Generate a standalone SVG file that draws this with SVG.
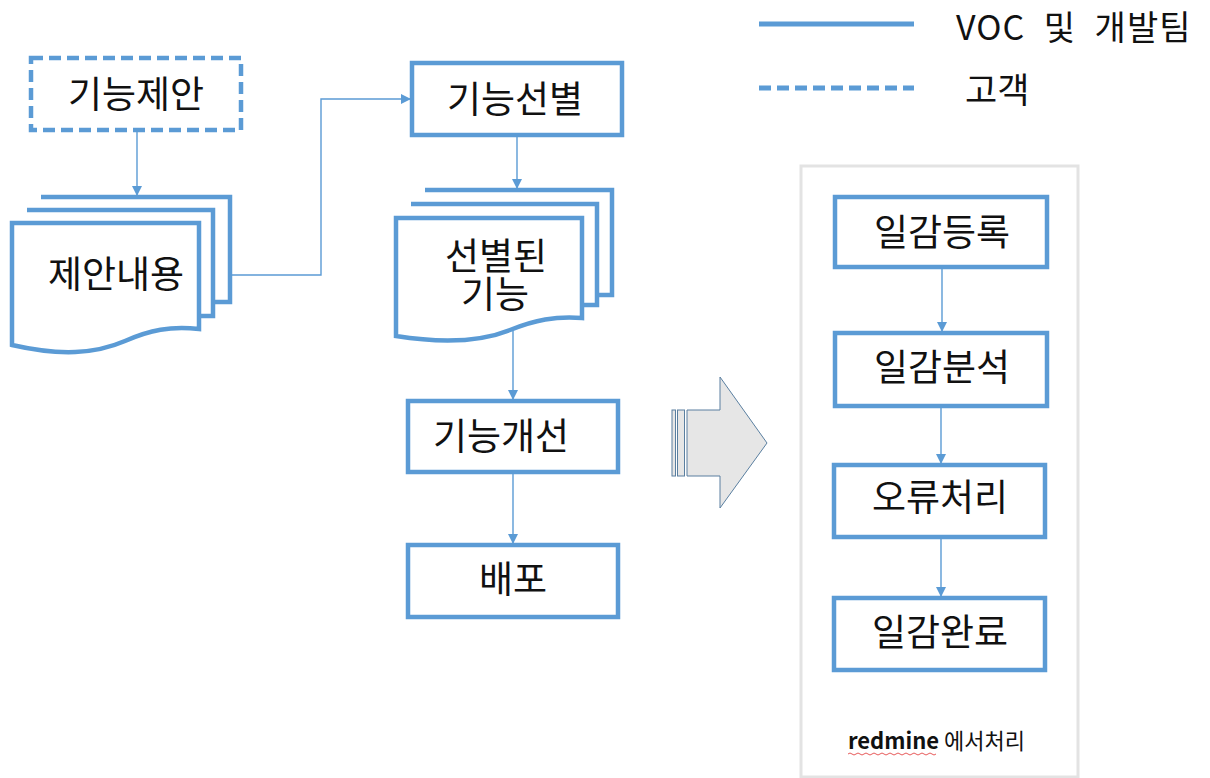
<svg xmlns="http://www.w3.org/2000/svg" width="1210" height="778" viewBox="0 0 1210 778">
<defs>
<style>
.box{fill:#fff;stroke:#5b9bd5;stroke-width:4.5}
.dash{fill:#fff;stroke:#5b9bd5;stroke-width:4.5;stroke-dasharray:12 6}
.doc{fill:#fff;stroke:#5b9bd5;stroke-width:4.5;stroke-linejoin:miter}
.t{font-family:"Noto Sans CJK KR","Noto Sans",sans-serif;font-size:37px;fill:#111;text-anchor:middle}
.conn{fill:none;stroke:#5b9bd5;stroke-width:1.4}
</style>
<marker id="ah" viewBox="0 0 10 10" refX="9" refY="5" markerWidth="10" markerHeight="10" markerUnits="userSpaceOnUse" orient="auto">
<path d="M0,0 L10,5 L0,10 z" fill="#5b9bd5"/>
</marker>
</defs>
<rect width="1210" height="778" fill="#fff"/>

<g id="legend">
<line x1="759" y1="24" x2="914" y2="24" stroke="#5b9bd5" stroke-width="5"/>
<line x1="759" y1="88" x2="914" y2="88" stroke="#5b9bd5" stroke-width="5" stroke-dasharray="12 6"/>
<text x="956" y="40" class="t" style="text-anchor:start;font-size:34px;letter-spacing:1px;word-spacing:10px">VOC 및 개발팀</text>
<text x="965" y="103" class="t" style="text-anchor:start;font-size:35px">고객</text>
</g>

<g id="container">
<rect x="801" y="166" width="277" height="611" fill="#fff" stroke="#e3e3e3" stroke-width="3"/>
<text x="848" y="749" font-family="'Noto Sans CJK KR','Liberation Sans',sans-serif" font-size="22" fill="#111"><tspan font-weight="bold">redmine</tspan> 에서처리</text>
<path d="M848,754 q2,-2 4,0 t4,0 t4,0 t4,0 t4,0 t4,0 t4,0 t4,0 t4,0 t4,0 t4,0 t4,0 t4,0 t4,0 t4,0 t4,0 t4,0 t4,0 t4,0 t4,0 t4,0 t4,0" fill="none" stroke="#e03030" stroke-width="0.8"/>
</g>

<g id="n-proposal">
<rect x="31" y="58" width="210" height="72" class="dash"/>
<text x="136" y="108" class="t">기능제안</text>
</g>

<g id="n-proposal-docs">
<path d="M41,197 H230 V302 H213" class="doc"/>
<path d="M27,210 H213 V316 H199" class="doc"/>
<path d="M12,223 H199 V329 C170,326 150,330 125,341 C95,354 60,356 12,345 Z" class="doc"/>
<text x="116" y="288" class="t">제안내용</text>
</g>

<g id="n-select">
<rect x="412" y="63" width="210" height="72" class="box"/>
<text x="515" y="113" class="t">기능선별</text>
</g>

<g id="n-selected-docs">
<path d="M425,190 H612 V295 H597" class="doc"/>
<path d="M411,204 H597 V305 H582" class="doc"/>
<path d="M396,218 H582 V318 C555,316 535,320 510,330 C480,342 440,343 396,336 Z" class="doc"/>
<text class="t"><tspan x="496" y="270">선별된</tspan><tspan x="495" y="308">기능</tspan></text>
</g>

<g id="n-improve">
<rect x="408" y="401" width="210" height="71" class="box"/>
<text x="501" y="450" class="t">기능개선</text>
</g>

<g id="n-deploy">
<rect x="408" y="545" width="210" height="72" class="box"/>
<text x="513" y="593" class="t">배포</text>
</g>

<g id="big-arrow">
<rect x="672" y="410" width="3.5" height="66" fill="#e6e6e6" stroke="#5a7fa0" stroke-width="1"/>
<rect x="677.5" y="410" width="7" height="66" fill="#e6e6e6" stroke="#5a7fa0" stroke-width="1"/>
<path d="M687,410 H720 V377 L767,443 L720,508 V476 H687 Z" fill="#e6e6e6" stroke="#5a7fa0" stroke-width="1"/>
</g>

<g id="n-reg">
<rect x="835" y="197" width="212" height="70" class="box"/>
<text x="942" y="246" class="t">일감등록</text>
</g>
<g id="n-analysis">
<rect x="835" y="333" width="212" height="73" class="box"/>
<text x="942" y="381" class="t">일감분석</text>
</g>
<g id="n-error">
<rect x="834" y="465" width="211" height="72" class="box"/>
<text x="940" y="511" class="t">오류처리</text>
</g>
<g id="n-done">
<rect x="834" y="598" width="211" height="72" class="box"/>
<text x="940" y="646" class="t">일감완료</text>
</g>

<g id="connectors">
<path d="M137,132 L137,195" class="conn" marker-end="url(#ah)"/>
<path d="M230,275 H321 V99 H410" class="conn" marker-end="url(#ah)"/>
<path d="M517,137 L517,188" class="conn" marker-end="url(#ah)"/>
<path d="M513,331 L513,399" class="conn" marker-end="url(#ah)"/>
<path d="M513,474 L513,543" class="conn" marker-end="url(#ah)"/>
<path d="M942,269 L942,331" class="conn" marker-end="url(#ah)"/>
<path d="M941,408 L941,463" class="conn" marker-end="url(#ah)"/>
<path d="M941,539 L941,596" class="conn" marker-end="url(#ah)"/>
</g>
</svg>
